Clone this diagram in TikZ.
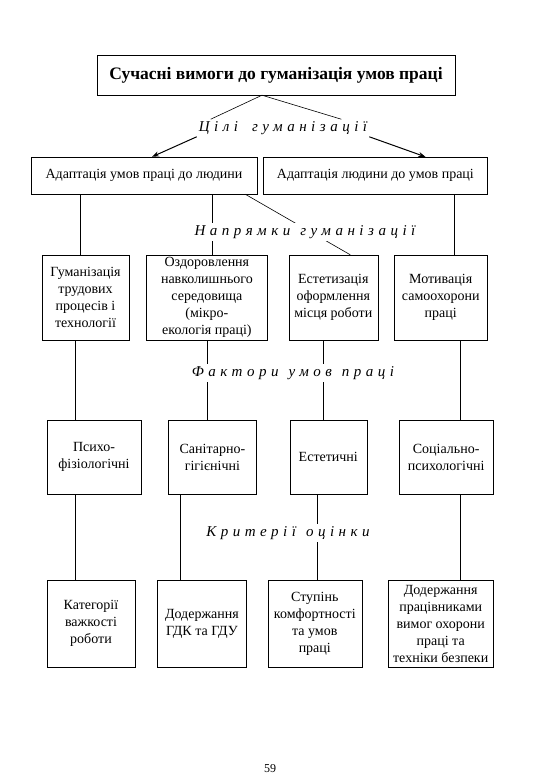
\documentclass[tikz,border=0pt]{standalone}
\usepackage{fontspec}
\setmainfont{Liberation Serif}
\newfontfamily\spacedfont[LetterSpace=30]{Liberation Serif}
\usepackage{tikz}
\usetikzlibrary{shapes, arrows.meta, positioning}

\begin{document}
\begin{tikzpicture}[x=1pt, y=-1pt,
    box/.style={draw, rectangle, align=center, inner sep=0pt, font=\fontsize{14}{17}\selectfont},
    lbl/.style={fill=white, inner sep=2pt, font=\spacedfont\itshape\fontsize{15}{18}\selectfont},
    link/.style={line width=0.6pt},
    arrow/.style={-{Stealth[length=7pt, width=5pt]}, line width=1pt}]

    \useasboundingbox (0,0) rectangle (540,780);

    % Nodes
    \node (title) [box, minimum width=358pt, minimum height=40pt, font=\bfseries\fontsize{17.5}{20}\selectfont] at (276,75) {Сучасні вимоги до гуманізація умов праці};
    \node (goals) [lbl] at (283,128) {Цілі\hspace{14pt}гуманізації};
    \node (adapt1) [box, minimum width=226pt, minimum height=37pt] at (144,175.5) {Адаптація умов праці до людини};
    \node (adapt2) [box, minimum width=224pt, minimum height=37pt, right=6pt of adapt1] {Адаптація людини до умов праці};

    \node (h1) [box, minimum width=87pt, minimum height=85pt] at (85.5,297.5) {Гуманізація\\трудових\\процесів і\\технології};
    \node (h2) [box, minimum width=121pt, minimum height=85pt, right=17pt of h1] {Оздоровлення\\навколишнього\\середовища\\(мікро-\\екологія праці)};
    \node (h3) [box, minimum width=89pt, minimum height=85pt, right=21pt of h2] {Естетизація\\оформлення\\місця роботи};
    \node (h4) [box, minimum width=93pt, minimum height=85pt, right=16pt of h3] {Мотивація\\самоохорони\\праці};

    \node (f1) [box, minimum width=94pt, minimum height=74pt] at (94,457) {Психо-\\фізіологічні};
    \node (f2) [box, minimum width=88pt, minimum height=74pt, right=27pt of f1] {Санітарно-\\гігієнічні};
    \node (f3) [box, minimum width=77pt, minimum height=74pt, right=33pt of f2] {Естетичні};
    \node (f4) [box, minimum width=94pt, minimum height=74pt, right=32pt of f3] {Соціально-\\психологічні};

    \node (c1) [box, minimum width=88pt, minimum height=87pt] at (91,623.5) {Категорії\\важкості\\роботи};
    \node (c2) [box, minimum width=89pt, minimum height=87pt, right=22pt of c1] {Додержання\\ГДК та ГДУ};
    \node (c3) [box, minimum width=94pt, minimum height=87pt, right=21pt of c2] {Ступінь\\комфортності\\та умов\\праці};
    \node (c4) [box, minimum width=105pt, minimum height=87pt, right=26pt of c3] {Додержання\\працівниками\\вимог охорони\\праці та\\техніки безпеки};

    \node (page) at (270,769) {\fontsize{12}{14}\selectfont 59};

    % Edges
    \draw[link] ([xshift=-14pt]title.south) -- ([xshift=14pt]goals.north west);
    \draw[link] ([xshift=-14pt]title.south) -- ([xshift=-28pt]goals.north east);
    \draw[arrow] (goals.south west) -- ([xshift=8pt]adapt1.north);
    \draw[arrow] (goals.south east) -- ([xshift=50pt]adapt2.north);

    \draw[link] ([xshift=-5.5pt]h1.north) -- ([xshift=-5.5pt]h1.north |- adapt1.south);
    \draw[link] ([xshift=5.5pt]h2.north) -- ([xshift=5.5pt]h2.north |- adapt1.south);
    \draw[link] ([xshift=-12pt]adapt1.south east) -- ([xshift=17pt]h3.north);
    \draw[link] ([xshift=13.5pt]h4.north) -- ([xshift=13.5pt]h4.north |- adapt2.south);

    \draw[link] ([xshift=-10.5pt]h1.south) -- ([xshift=-10.5pt]h1.south |- f1.north);
    \draw[link] (h2.south) -- (h2.south |- f2.north);
    \draw[link] ([xshift=-10.5pt]h3.south) -- ([xshift=-10.5pt]h3.south |- f3.north);
    \draw[link] ([xshift=19.5pt]h4.south) -- ([xshift=19.5pt]h4.south |- f4.north);

    \draw[link] ([xshift=-19pt]f1.south) -- ([xshift=-19pt]f1.south |- c1.north);
    \draw[link] ([xshift=-32pt]f2.south) -- ([xshift=-32pt]f2.south |- c2.north);
    \draw[link] ([xshift=-11.5pt]f3.south) -- ([xshift=-11.5pt]f3.south |- c3.north);
    \draw[link] ([xshift=14pt]f4.south) -- ([xshift=14pt]f4.south |- c4.north);

    % Labels over the edges
    \node (ways) [lbl] at (305,232) {Напрямки\hspace{10pt}гуманізації};
    \node (factors) [lbl] at (293,373) {Фактори\hspace{10pt}умов\hspace{10pt}праці};
    \node (criteria) [lbl] at (288,533) {Критерії\hspace{10pt}оцінки};
\end{tikzpicture}
\end{document}
